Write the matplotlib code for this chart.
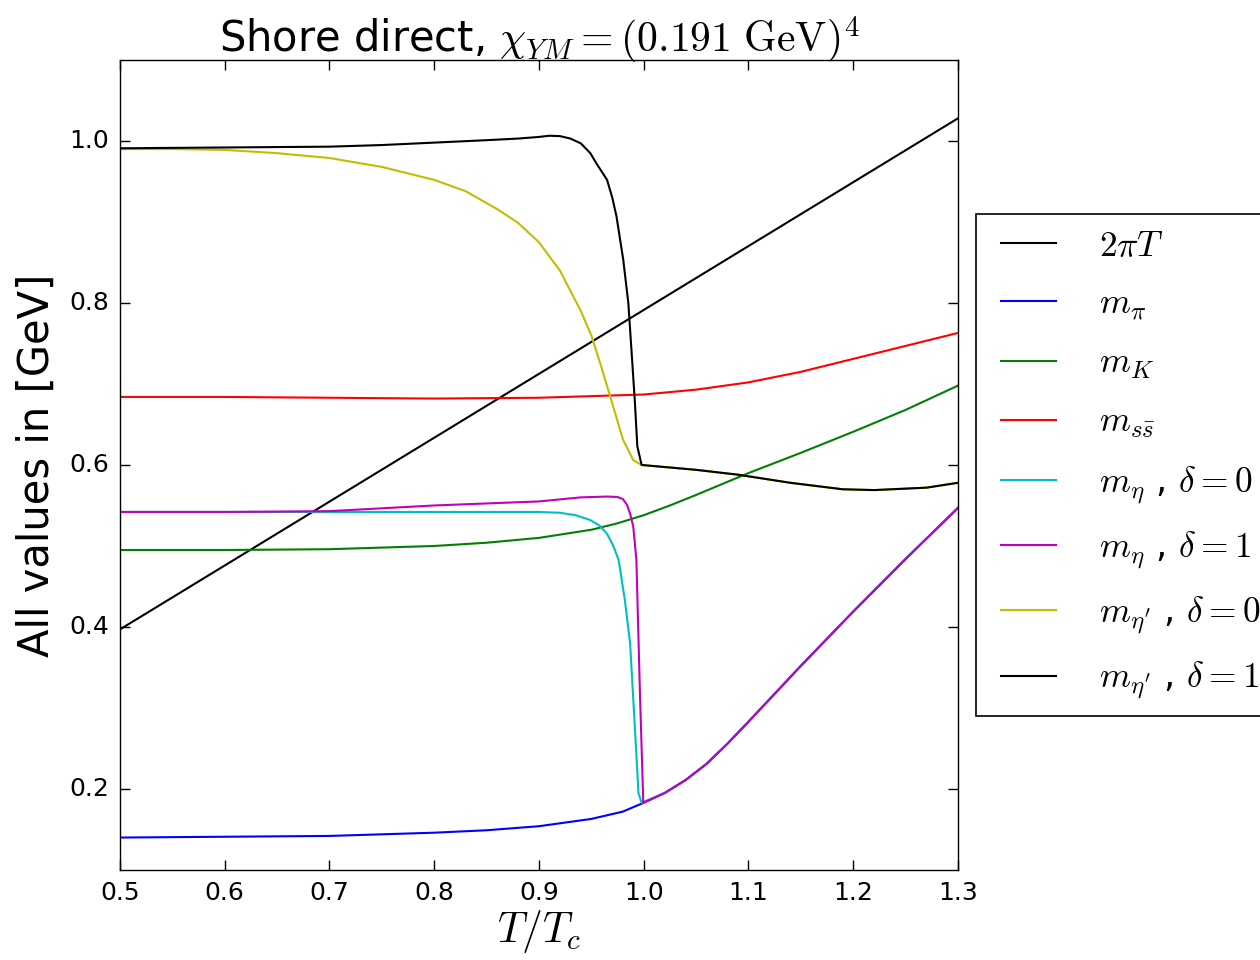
import matplotlib

matplotlib.use("Agg")

import matplotlib.pyplot as plt

# T/Tc grids and masses in GeV
t_line = [0.5, 1.3]
two_pi_t = [0.397, 1.028]

t_pi = [0.5, 0.6, 0.7, 0.8, 0.85, 0.9, 0.95, 0.98, 1.0, 1.02, 1.04, 1.06, 1.08, 1.1, 1.15, 1.2, 1.25, 1.3]
m_pi = [0.140, 0.141, 0.142, 0.146, 0.149, 0.154, 0.163, 0.172, 0.183, 0.195, 0.211, 0.231, 0.256, 0.283,
        0.352, 0.419, 0.484, 0.547]

t_k = [0.5, 0.6, 0.7, 0.8, 0.85, 0.9, 0.95, 0.975, 1.0, 1.025, 1.05, 1.1, 1.15, 1.2, 1.25, 1.3]
m_k = [0.495, 0.495, 0.496, 0.500, 0.504, 0.510, 0.520, 0.528, 0.538, 0.550, 0.563, 0.590, 0.615, 0.641,
       0.668, 0.698]

t_ss = [0.5, 0.6, 0.7, 0.8, 0.9, 0.95, 1.0, 1.05, 1.1, 1.15, 1.2, 1.25, 1.3]
m_ss = [0.684, 0.684, 0.683, 0.682, 0.683, 0.685, 0.687, 0.693, 0.702, 0.715, 0.731, 0.747, 0.763]

t_eta0 = [0.5, 0.6, 0.7, 0.8, 0.9, 0.92, 0.935, 0.949, 0.958, 0.965, 0.971, 0.976, 0.982, 0.987, 0.9915,
          0.995, 0.998, 1.02, 1.04, 1.06, 1.08, 1.1, 1.15, 1.2, 1.25, 1.3]
m_eta0 = [0.542, 0.542, 0.542, 0.542, 0.542, 0.541, 0.538, 0.532, 0.525, 0.515, 0.500, 0.483, 0.433, 0.380,
          0.277, 0.195, 0.183, 0.195, 0.211, 0.231, 0.256, 0.283, 0.352, 0.419, 0.484, 0.547]

t_eta1 = [0.5, 0.6, 0.7, 0.8, 0.9, 0.94, 0.965, 0.975, 0.98, 0.984, 0.987, 0.990, 0.993, 0.9964, 0.9996,
          1.02, 1.04, 1.06, 1.08, 1.1, 1.15, 1.2, 1.25, 1.3]
m_eta1 = [0.542, 0.542, 0.543, 0.550, 0.555, 0.560, 0.561, 0.5605, 0.558, 0.551, 0.540, 0.524, 0.483, 0.318,
          0.183, 0.195, 0.211, 0.231, 0.256, 0.283, 0.352, 0.419, 0.484, 0.547]

t_etap0 = [0.5, 0.55, 0.6, 0.65, 0.7, 0.75, 0.8, 0.83, 0.86, 0.88, 0.9, 0.92, 0.94, 0.95, 0.96, 0.97,
           0.98, 0.99, 0.998, 1.05, 1.09, 1.14, 1.19, 1.22, 1.27, 1.3]
m_etap0 = [0.990, 0.990, 0.989, 0.985, 0.979, 0.968, 0.952, 0.938, 0.916, 0.899, 0.875, 0.840, 0.790, 0.760,
           0.719, 0.676, 0.632, 0.606, 0.600, 0.594, 0.588, 0.578, 0.570, 0.569, 0.572, 0.578]

t_etap1 = [0.5, 0.6, 0.7, 0.75, 0.8, 0.85, 0.88, 0.9, 0.91, 0.92, 0.93, 0.94, 0.949, 0.955, 0.965, 0.97,
           0.974, 0.9805, 0.9853, 0.9885, 0.9916, 0.9939, 0.998, 1.05, 1.09, 1.14, 1.19, 1.22, 1.27, 1.3]
m_etap1 = [0.991, 0.992, 0.993, 0.995, 0.998, 1.001, 1.003, 1.005, 1.0065, 1.006, 1.003, 0.997, 0.985, 0.972,
           0.952, 0.930, 0.907, 0.853, 0.800, 0.738, 0.677, 0.623, 0.600, 0.594, 0.588, 0.578, 0.570, 0.569,
           0.572, 0.578]

plt.style.use("classic")
plt.rcParams["mathtext.fontset"] = "cm"

fig = plt.figure(figsize=(12.6, 9.6), dpi=100, facecolor="white")
ax = fig.add_axes([0.0952, 0.0938, 0.6651, 0.8437])

lw = 1.5
ax.plot(t_line, two_pi_t, color="k", lw=lw, label=r"$2\pi T$")
ax.plot(t_pi, m_pi, color="b", lw=lw, label=r"$m_\pi$")
ax.plot(t_k, m_k, color="g", lw=lw, label=r"$m_K$")
ax.plot(t_ss, m_ss, color="r", lw=lw, label=r"$m_{s\bar{s}}$")
ax.plot(t_eta0, m_eta0, color="c", lw=lw, label=r"$m_\eta$ , $\delta=0$")
ax.plot(t_eta1, m_eta1, color="m", lw=lw, label=r"$m_\eta$ , $\delta=1$")
ax.plot(t_etap0, m_etap0, color="y", lw=lw, label=r"$m_{\eta'}$ , $\delta=0$")
ax.plot(t_etap1, m_etap1, color="k", lw=lw, label=r"$m_{\eta'}$ , $\delta=1$")

ax.set_xlim(0.5, 1.3)
ax.set_ylim(0.1, 1.1)
ax.set_xticks([0.5, 0.6, 0.7, 0.8, 0.9, 1.0, 1.1, 1.2, 1.3])
ax.set_yticks([0.2, 0.4, 0.6, 0.8, 1.0])
ax.tick_params(labelsize=18, length=7, width=1, direction="in", pad=8)

ax.set_title(r"Shore direct, $\chi_{YM}=(0.191\ \mathrm{GeV})^4$", fontsize=30)
ax.set_xlabel(r"$T/T_c$", fontsize=30, labelpad=2)
ax.set_ylabel("All values in [GeV]", fontsize=30, labelpad=8)

leg = ax.legend(loc="center left", bbox_to_anchor=(1.022, 0.5), borderaxespad=0, fontsize=25.5,
                handlelength=2.15, handletextpad=0.9, labelspacing=0.68, frameon=True, fancybox=False)
leg.get_frame().set_edgecolor("k")
leg.get_frame().set_linewidth(1.2)

fig.savefig("out.png", dpi=100, facecolor="white")
